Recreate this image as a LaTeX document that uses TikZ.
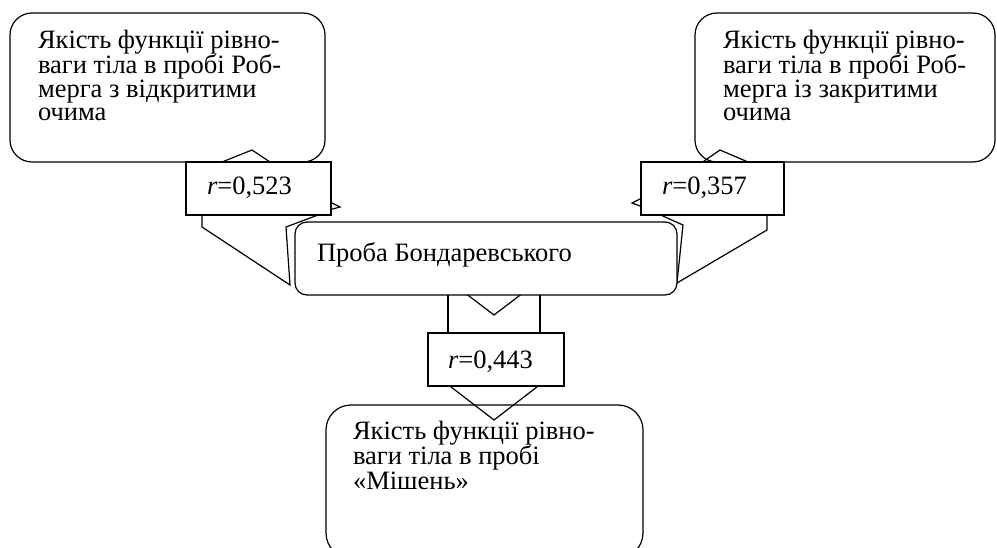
\documentclass[tikz,border=0pt]{standalone}
\usepackage{fontspec}
\setmainfont{Liberation Serif}
\begin{document}
\begin{tikzpicture}[x=1pt,y=-1pt,
    every node/.style={inner sep=0pt, outer sep=0pt},
    roundbox/.style={draw, line width=1.2pt, fill=white, rounded corners=#1},
    rbox/.style={draw, line width=1.2pt, fill=white},
    txt/.style={font=\fontsize{26.5}{23}\selectfont, align=left, anchor=base west},
    blockline/.style={line width=1.2pt}]
    \clip (0,0) rectangle (997,548);
    % outer boxes
    \draw[roundbox=22] (10,13) rectangle (325,162);
    \draw[roundbox=22] (695,13) rectangle (995,162);
    \draw[roundbox=25] (326,405) rectangle (643,558);
    % block arrows, left
    \draw[blockline] (207,168) -- (252,150) -- (279,168);
    \draw[blockline] (202,205) -- (202,227) -- (290,285) -- (286,227) -- (326,212);
    \draw[blockline] (322,198) -- (340,207) -- (322,212);
    % block arrows, right
    \draw[blockline] (694,168) -- (720,150) -- (762,168);
    \draw[blockline] (767,205) -- (767,230) -- (677,283) -- (683,225) -- (654,212);
    \draw[blockline] (648,195) -- (632,203) -- (648,209);
    % block arrow, down
    \draw[blockline] (448,280) -- (448,340) (540,280) -- (540,340);
    \draw[blockline] (448,280) -- (494,315) -- (540,280);
    \draw[blockline] (429,370) -- (494,420) -- (559,370);
    % middle box and r boxes
    \draw[roundbox=12] (295,222) rectangle (677,295);
    \draw[rbox] (186,162) rectangle (331,215);
    \draw[rbox] (641,162) rectangle (784,215);
    \draw[rbox] (428,333) rectangle (564,386);
    % texts (anchored at the last line)
    \node[txt] (open) at (38,121) {Якість функції рівно-\\ваги тіла в пробі Роб-\\мерга з відкритими\\очима};
    \node[txt] (closed) at (723,121) {Якість функції рівно-\\ваги тіла в пробі Роб-\\мерга із закритими\\очима};
    \node[txt] (bondar) at (317,262) {Проба Бондаревського};
    \node[txt] (target) at (353,489) {Якість функції рівно-\\ваги тіла в пробі\\«Мішень»};
    \node[txt] (ra) at (207,195) {\textit{r}=0,523};
    \node[txt] (rb) at (662,195) {\textit{r}=0,357};
    \node[txt] (rc) at (448,368) {\textit{r}=0,443};
\end{tikzpicture}
\end{document}
